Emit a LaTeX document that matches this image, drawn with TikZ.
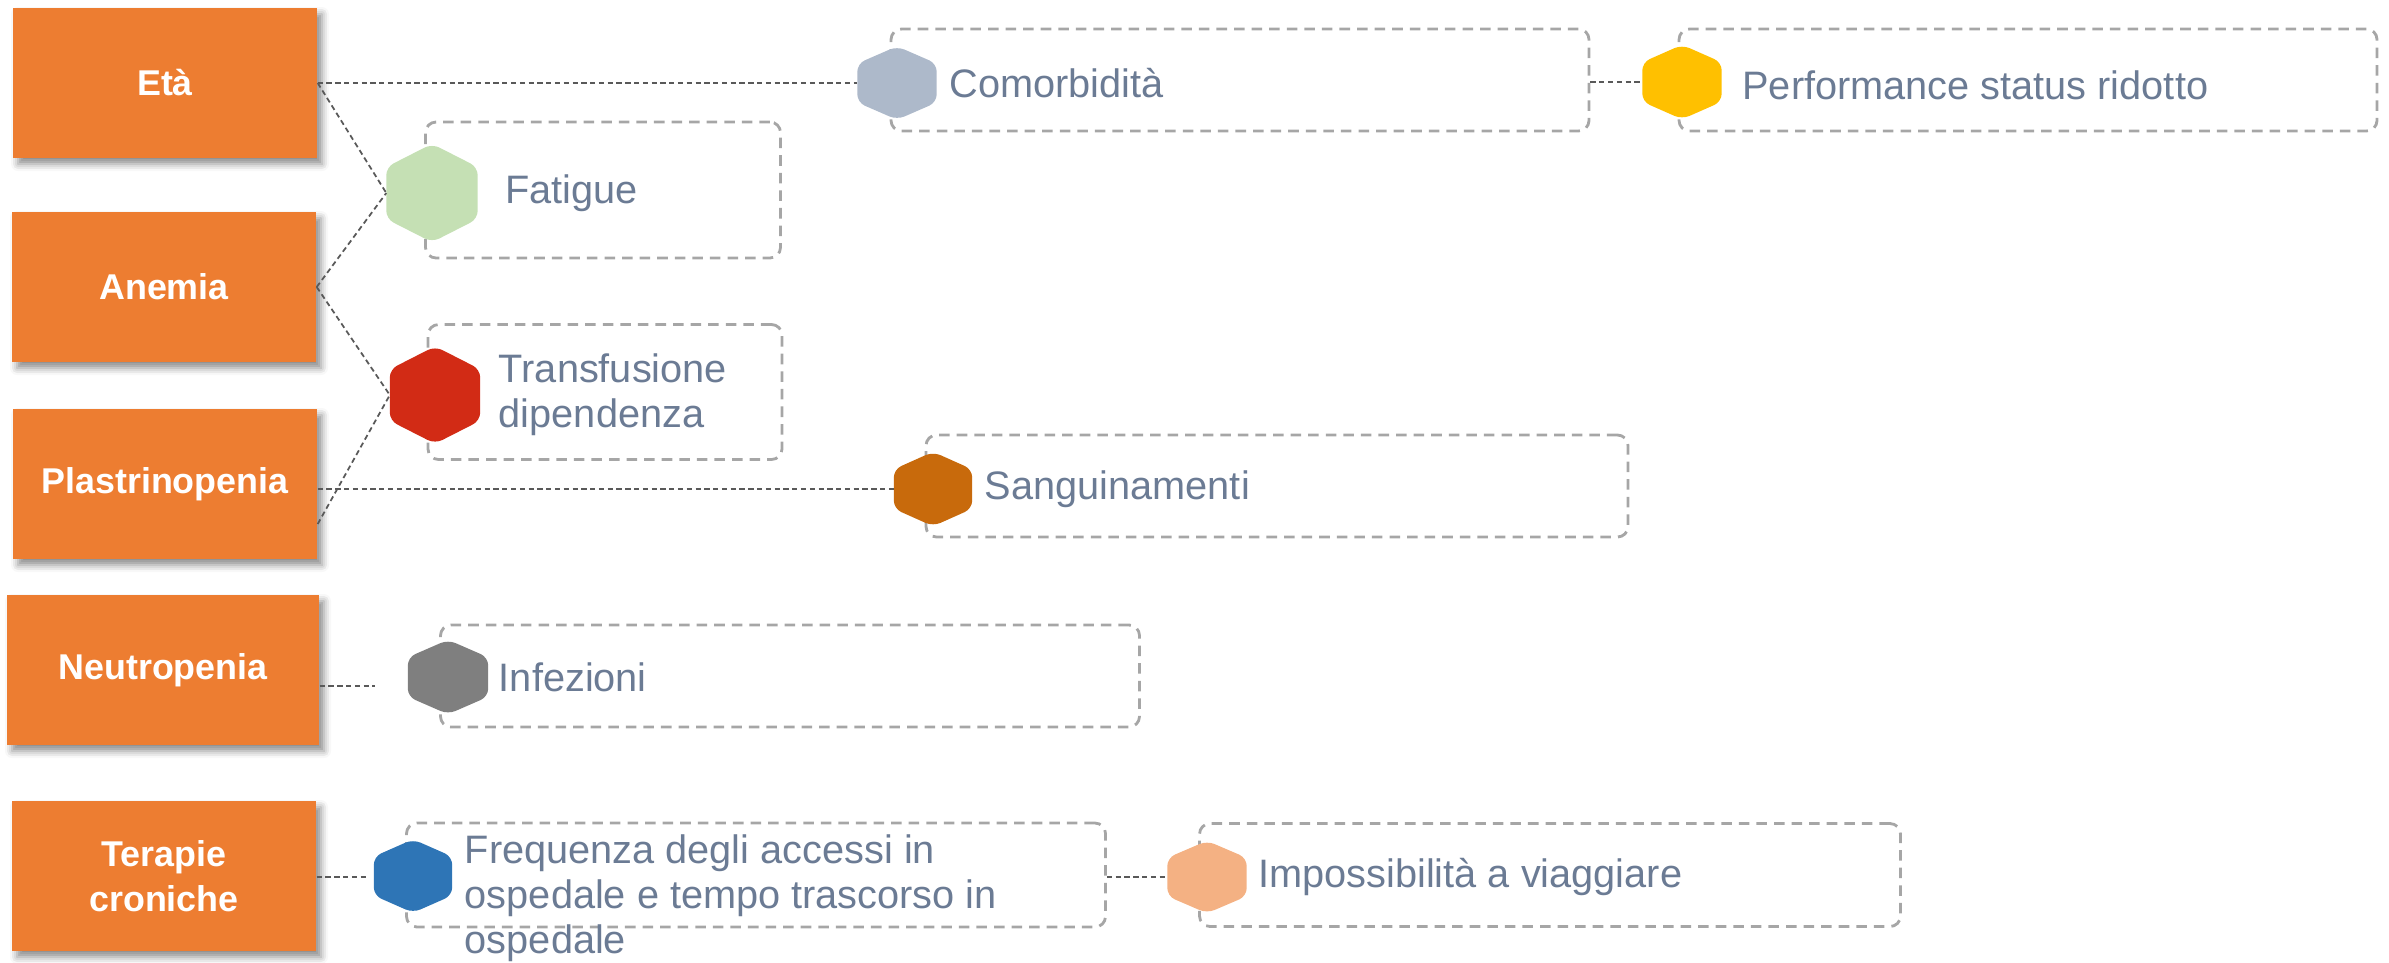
\documentclass[tikz,border=0pt]{standalone}
\usepackage{fontspec}
\setmainfont{Liberation Sans}
\usetikzlibrary{positioning,shadows.blur}

\definecolor{causeorange}{HTML}{ED7D31}
\definecolor{effecttext}{HTML}{6B7B94}
\definecolor{framegray}{HTML}{A6A6A6}
\definecolor{linkgray}{HTML}{595959}
\definecolor{hexcomorb}{HTML}{ADB9CA}
\definecolor{hexperf}{HTML}{FFC000}
\definecolor{hexfatigue}{HTML}{C5E0B4}
\definecolor{hextransf}{HTML}{D22B15}
\definecolor{hexsangu}{HTML}{C86A0C}
\definecolor{hexinfez}{HTML}{7F7F7F}
\definecolor{hexfreq}{HTML}{2E75B6}
\definecolor{heximposs}{HTML}{F4B183}

\tikzset{
  cause/.style={rectangle, fill=causeorange, text=white, align=center,
    font=\fontsize{10.2}{12.8}\selectfont\bfseries,
    minimum width=30.4mm, minimum height=15mm, inner sep=0pt,
    blur shadow={shadow xshift=0.5mm, shadow yshift=-0.6mm,
      shadow blur radius=0.7mm, shadow opacity=45}},
  effectbox/.style={draw=framegray, line width=0.8pt, dash pattern=on 3pt off 2pt,
    rounded corners=3pt, inner sep=0pt},
  hexbase/.style={rectangle, inner sep=0pt},
  effect/.style={anchor=west, text=effecttext, align=left, inner sep=0pt,
    font=\fontsize{11.3}{12.8}\selectfont},
  link/.style={draw=linkgray, line width=0.5pt, dash pattern=on 1.5pt off 1pt},
}

% hexagon badge: name, position, width, height, colour
\newcommand{\effecthex}[5]{%
  \node[hexbase, minimum width=#3, minimum height=#4] (#1) at (#2) {};
  \fill[#5, rounded corners=2.3pt]
    (#1.east) -- ([yshift=-0.24*#4]#1.north east) -- (#1.north)
    -- ([yshift=-0.24*#4]#1.north west) -- ([yshift=0.24*#4]#1.south west)
    -- (#1.south) -- ([yshift=0.24*#4]#1.south east) -- cycle;
}

\begin{document}
\begin{tikzpicture}[x=0.1mm, y=-0.1mm]

    \useasboundingbox (0,0) rectangle (2389,962);

    % Define nodes
    \node[cause]                         (eta)    at (165,83)  {Età};
    \node[cause]                         (anemia) at (164,287) {Anemia};
    \node[cause]                         (plast)  at (165,484) {Plastrinopenia};
    \node[cause, minimum width=31.2mm]   (neutro) at (163,670) {Neutropenia};
    \node[cause]                         (terap)  at (164,876) {Terapie\\croniche};

    \node[effectbox, minimum width=69.8mm, minimum height=10.2mm] (comorb-box)  at (1240,80)   {};
    \node[effectbox, minimum width=69.8mm, minimum height=10.2mm] (perf-box)    at (2028,80)   {};
    \node[effectbox, minimum width=35.5mm, minimum height=13.6mm] (fatigue-box) at (603,190)   {};
    \node[effectbox, minimum width=35.4mm, minimum height=13.5mm] (transf-box)  at (605,392)   {};
    \node[effectbox, minimum width=70.2mm, minimum height=10.2mm] (sangu-box)   at (1277,486)  {};
    \node[effectbox, minimum width=69.9mm, minimum height=10.2mm] (infez-box)   at (790,676)   {};
    \node[effectbox, minimum width=69.9mm, minimum height=10.4mm] (freq-box)    at (756,875)   {};
    \node[effectbox, minimum width=70.1mm, minimum height=10.3mm] (imposs-box)  at (1550,875)  {};

    \effecthex{comorb-hex}{897,83}{7.8mm}{7.2mm}{hexcomorb}
    \effecthex{perf-hex}{1682,82}{7.8mm}{7.3mm}{hexperf}
    \effecthex{fatigue-hex}{432,193}{9.0mm}{9.7mm}{hexfatigue}
    \effecthex{transf-hex}{435,395}{8.9mm}{9.6mm}{hextransf}
    \effecthex{sangu-hex}{933,489}{7.7mm}{7.3mm}{hexsangu}
    \effecthex{infez-hex}{448,677}{7.9mm}{7.3mm}{hexinfez}
    \effecthex{freq-hex}{413,876}{7.7mm}{7.2mm}{hexfreq}
    \effecthex{imposs-hex}{1207,877}{7.8mm}{7.1mm}{heximposs}

    \node[effect, right=1.2mm of comorb-hex]              (comorb)  {Comorbidità};
    \node[effect, right=2.0mm of perf-hex, yshift=-0.3mm] (perf)    {Performance status ridotto};
    \node[effect, right=2.7mm of fatigue-hex]             (fatigue) {Fatigue};
    \node[effect, right=1.8mm of transf-hex]              (transf)  {Transfusione\\dipendenza};
    \node[effect, right=1.2mm of sangu-hex]               (sangu)   {Sanguinamenti};
    \node[effect, right=1.0mm of infez-hex]               (infez)   {Infezioni};
    \node[effect, right=1.2mm of freq-hex, yshift=-2.2mm] (freq)
      {Frequenza degli accessi in\\ospedale e tempo trascorso in\\ospedale};
    \node[effect, right=1.1mm of imposs-hex]              (imposs)  {Impossibilità a viaggiare};

    \coordinate (neutro-stub) at (375,686);
    \coordinate (terap-stub)  at (368,877);

    % Connect the nodes
    \draw[link] (eta.east |- comorb-hex.west) -- (comorb-hex.west);
    \draw[link] (eta.east) -- (fatigue-hex.west);
    \draw[link] (anemia.east) -- (fatigue-hex.west);
    \draw[link] (anemia.east) -- (transf-hex.west);
    \draw[link] ([yshift=-4mm]plast.east) -- (transf-hex.west);
    \draw[link] (plast.east |- sangu-hex.west) -- (sangu-hex.west);
    \draw[link] (neutro.east |- neutro-stub) -- (neutro-stub);
    \draw[link] (terap.east |- terap-stub) -- (terap-stub);
    \draw[link] (comorb-box.east |- perf-hex.west) -- (perf-hex.west);
    \draw[link] (freq-box.east |- imposs-hex.west) -- (imposs-hex.west);

\end{tikzpicture}
\end{document}
